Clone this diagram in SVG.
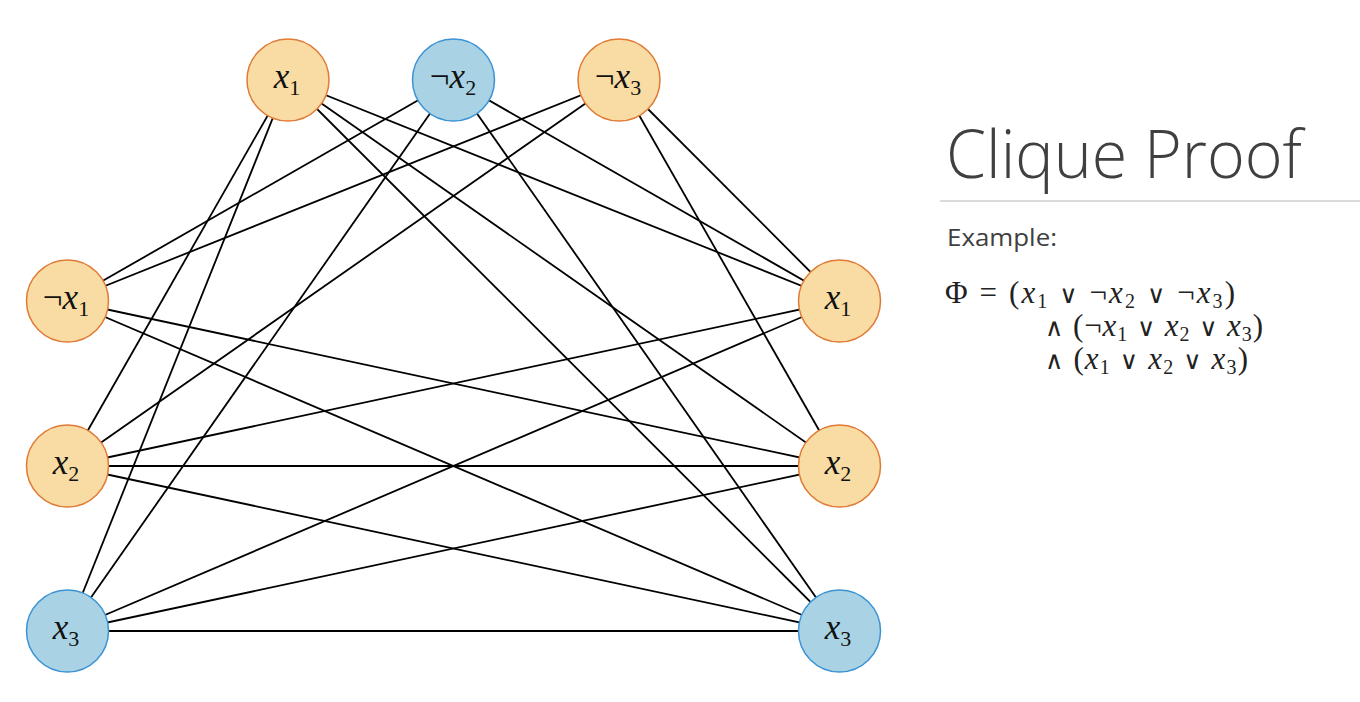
<svg xmlns="http://www.w3.org/2000/svg" width="1360" height="702" viewBox="0 0 1360 702">
<style>
.edge{stroke:#000;stroke-width:1.8;fill:none}
.or{fill:#F8DCA3;stroke:#E07A35;stroke-width:1.5}
.bl{fill:#A9D3E4;stroke:#3C93D4;stroke-width:1.5}
</style>
<rect width="1360" height="702" fill="#fff"/>
<g id="connectors">
<line class="edge" x1="288" y1="80" x2="67.5" y2="466"/>
<line class="edge" x1="288" y1="80" x2="67.5" y2="631"/>
<line class="edge" x1="288" y1="80" x2="839.5" y2="301"/>
<line class="edge" x1="288" y1="80" x2="839.5" y2="466"/>
<line class="edge" x1="288" y1="80" x2="839.5" y2="631"/>
<line class="edge" x1="453.5" y1="80" x2="67.5" y2="301"/>
<line class="edge" x1="453.5" y1="80" x2="67.5" y2="631"/>
<line class="edge" x1="453.5" y1="80" x2="839.5" y2="301"/>
<line class="edge" x1="453.5" y1="80" x2="839.5" y2="631"/>
<line class="edge" x1="619" y1="80" x2="67.5" y2="301"/>
<line class="edge" x1="619" y1="80" x2="67.5" y2="466"/>
<line class="edge" x1="619" y1="80" x2="839.5" y2="301"/>
<line class="edge" x1="619" y1="80" x2="839.5" y2="466"/>
<line class="edge" x1="67.5" y1="301" x2="839.5" y2="466"/>
<line class="edge" x1="67.5" y1="301" x2="839.5" y2="631"/>
<line class="edge" x1="67.5" y1="466" x2="839.5" y2="301"/>
<line class="edge" x1="67.5" y1="466" x2="839.5" y2="466"/>
<line class="edge" x1="67.5" y1="466" x2="839.5" y2="631"/>
<line class="edge" x1="67.5" y1="631" x2="839.5" y2="301"/>
<line class="edge" x1="67.5" y1="631" x2="839.5" y2="466"/>
<line class="edge" x1="67.5" y1="631" x2="839.5" y2="631"/>
</g>
<g id="top-x1"><circle class="or" cx="288" cy="80" r="41"/><text x="287" y="88" font-family="Liberation Serif" font-size="35" fill="#111" text-anchor="middle"><tspan font-style="italic">x</tspan><tspan font-size="22" dy="7">1</tspan></text></g>
<g id="top-nx2"><circle class="bl" cx="453.5" cy="80" r="41"/><text x="453" y="88" font-family="Liberation Serif" font-size="35" fill="#111" text-anchor="middle">¬<tspan font-style="italic">x</tspan><tspan font-size="22" dy="7">2</tspan></text></g>
<g id="top-nx3"><circle class="or" cx="619" cy="80" r="41"/><text x="618" y="88" font-family="Liberation Serif" font-size="35" fill="#111" text-anchor="middle">¬<tspan font-style="italic">x</tspan><tspan font-size="22" dy="7">3</tspan></text></g>
<g id="left-nx1"><circle class="or" cx="67.5" cy="301" r="41"/><text x="66" y="309" font-family="Liberation Serif" font-size="35" fill="#111" text-anchor="middle">¬<tspan font-style="italic">x</tspan><tspan font-size="22" dy="7">1</tspan></text></g>
<g id="left-x2"><circle class="or" cx="67.5" cy="466" r="41"/><text x="66" y="474" font-family="Liberation Serif" font-size="35" fill="#111" text-anchor="middle"><tspan font-style="italic">x</tspan><tspan font-size="22" dy="7">2</tspan></text></g>
<g id="left-x3"><circle class="bl" cx="67.5" cy="631" r="41"/><text x="66" y="639" font-family="Liberation Serif" font-size="35" fill="#111" text-anchor="middle"><tspan font-style="italic">x</tspan><tspan font-size="22" dy="7">3</tspan></text></g>
<g id="right-x1"><circle class="or" cx="839.5" cy="301" r="41"/><text x="838" y="309" font-family="Liberation Serif" font-size="35" fill="#111" text-anchor="middle"><tspan font-style="italic">x</tspan><tspan font-size="22" dy="7">1</tspan></text></g>
<g id="right-x2"><circle class="or" cx="839.5" cy="466" r="41"/><text x="838" y="474" font-family="Liberation Serif" font-size="35" fill="#111" text-anchor="middle"><tspan font-style="italic">x</tspan><tspan font-size="22" dy="7">2</tspan></text></g>
<g id="right-x3"><circle class="bl" cx="839.5" cy="631" r="41"/><text x="838" y="639" font-family="Liberation Serif" font-size="35" fill="#111" text-anchor="middle"><tspan font-style="italic">x</tspan><tspan font-size="22" dy="7">3</tspan></text></g>
<g id="title">
<text x="946" y="178" font-family="Open Sans" font-size="66" font-weight="300" fill="#404040" textLength="356" lengthAdjust="spacingAndGlyphs">Clique Proof</text>
<line x1="940" y1="201" x2="1360" y2="201" stroke="#cfcfcf" stroke-width="1.5"/>
<text x="947" y="246" font-family="Open Sans" font-size="24" fill="#404040" textLength="110" lengthAdjust="spacingAndGlyphs">Example:</text>
</g>
<g id="formula">
<text x="945" y="303" font-family="Liberation Serif" font-size="31" fill="#222" textLength="290" lengthAdjust="spacing">Φ = (<tspan font-style="italic">x</tspan><tspan font-size="20" dy="5">1</tspan><tspan dy="-5"> </tspan><tspan font-family="DejaVu Sans" font-size="25">∨</tspan> ¬<tspan font-style="italic">x</tspan><tspan font-size="20" dy="5">2</tspan><tspan dy="-5"> </tspan><tspan font-family="DejaVu Sans" font-size="25">∨</tspan> ¬<tspan font-style="italic">x</tspan><tspan font-size="20" dy="5">3</tspan><tspan dy="-5">)</tspan></text>
<text x="1045" y="336" font-family="Liberation Serif" font-size="31" fill="#222" textLength="218" lengthAdjust="spacing"><tspan font-family="DejaVu Sans" font-size="25">∧</tspan> (¬<tspan font-style="italic">x</tspan><tspan font-size="20" dy="5">1</tspan><tspan dy="-5"> </tspan><tspan font-family="DejaVu Sans" font-size="25">∨</tspan> <tspan font-style="italic">x</tspan><tspan font-size="20" dy="5">2</tspan><tspan dy="-5"> </tspan><tspan font-family="DejaVu Sans" font-size="25">∨</tspan> <tspan font-style="italic">x</tspan><tspan font-size="20" dy="5">3</tspan><tspan dy="-5">)</tspan></text>
<text x="1045" y="369" font-family="Liberation Serif" font-size="31" fill="#222" textLength="203" lengthAdjust="spacing"><tspan font-family="DejaVu Sans" font-size="25">∧</tspan> (<tspan font-style="italic">x</tspan><tspan font-size="20" dy="5">1</tspan><tspan dy="-5"> </tspan><tspan font-family="DejaVu Sans" font-size="25">∨</tspan> <tspan font-style="italic">x</tspan><tspan font-size="20" dy="5">2</tspan><tspan dy="-5"> </tspan><tspan font-family="DejaVu Sans" font-size="25">∨</tspan> <tspan font-style="italic">x</tspan><tspan font-size="20" dy="5">3</tspan><tspan dy="-5">)</tspan></text>
</g>
</svg>
